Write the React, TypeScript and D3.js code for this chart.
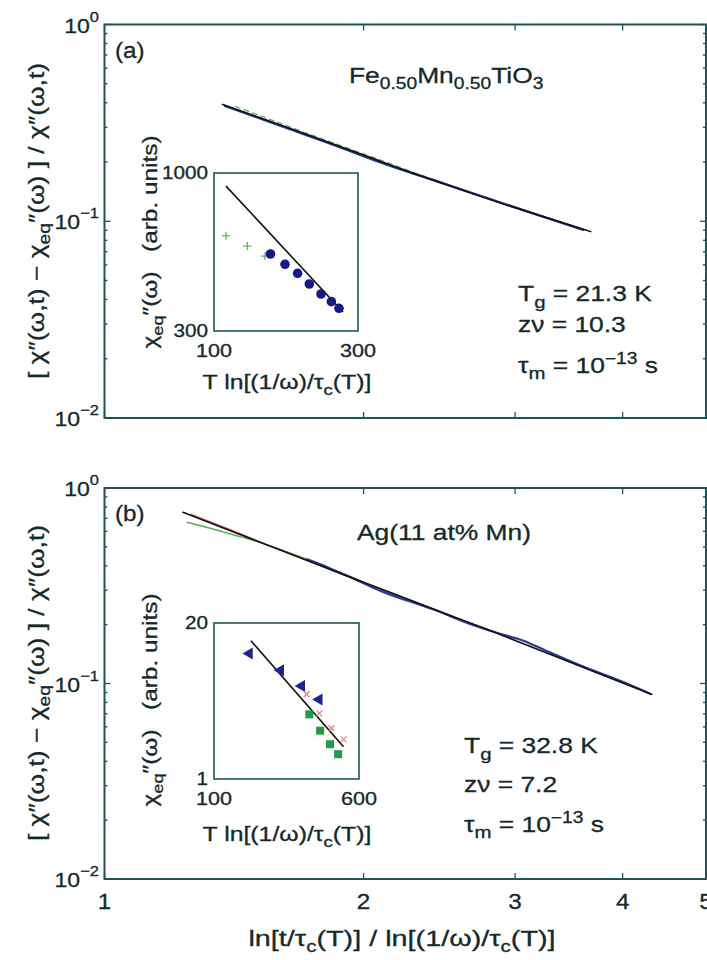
import React from "react";
import * as d3 from "d3";

// ---------- data ----------
const xTicksMain = [1, 2, 3, 4, 5];
const yDecades = [0.01, 0.1, 1];

// panel (a) main curves
const aBlackX = [1.371, 1.6, 2.0, 2.28, 2.5, 3.0, 3.674];
const aBlackY = [0.3926, 0.309, 0.217, 0.176, 0.153, 0.117, 0.0886];
const aBlueX = [1.38, 1.6, 1.85, 2.1, 2.4, 2.8, 3.2, 3.6];
const aBlueY = [0.386, 0.306, 0.244, 0.198, 0.163, 0.13, 0.107, 0.0905];
const aGreenX = [1.42, 1.6, 1.8, 2.0, 2.5, 3.0, 3.4, 3.68];
const aGreenY = [0.383, 0.315, 0.26, 0.22, 0.154, 0.118, 0.099, 0.0885];

// panel (b) main curves
const bBlackX = [1.234, 1.5, 1.87, 2.0, 2.5, 2.85, 3.0, 3.5, 4.324];
const bBlackY = [0.751, 0.538, 0.369, 0.33, 0.226, 0.182, 0.166, 0.127, 0.088];
const bGreenX = [1.248, 1.33, 1.42, 1.5, 1.7, 2.0];
const bGreenY = [0.668, 0.62, 0.572, 0.535, 0.44, 0.33];
const bRedX = [1.26, 1.4, 1.6, 1.9, 2.2, 2.5];
const bRedY = [0.735, 0.612, 0.482, 0.362, 0.276, 0.226];
const bBlueX = [1.72, 1.8, 1.86, 1.92, 2.1, 2.4, 2.7, 2.9, 3.05, 3.25, 3.6, 4.0, 4.3];
const bBlueY = [0.432, 0.4, 0.375, 0.354, 0.296, 0.241, 0.197, 0.178, 0.167, 0.148, 0.122, 0.102, 0.0888];

// inset (a)
const iaXTicks = [100, 300];
const iaYTicks = [300, 1000];
const iaLineX = [109.6, 267.6];
const iaLineY = [905, 346.7];
const iaCrossX = [109.6, 128.9, 147.6];
const iaCrossY = [620, 573, 531];
const iaDotX = [153.9, 171.9, 189.2, 206.9, 226.2, 244.9, 259.5];
const iaDotY = [539.5, 498.7, 465.6, 429.2, 397.7, 375.2, 356.6];

// inset (b)
const ibXTicks = [100, 600];
const ibYTicks = [1, 20];
const ibLineX = [158, 495.5];
const ibLineY = [14.2, 1.86];
const ibTriX = [154.7, 227.5, 294.9, 366.2];
const ibTriY = [11.13, 8.06, 5.96, 4.6];
const ibXmarkX = [314.1, 367.1, 426.7, 495.6];
const ibXmarkY = [5.09, 3.53, 2.65, 2.14];
const ibSqX = [324.8, 371.2, 419.4, 463.6];
const ibSqY = [3.46, 2.53, 1.95, 1.61];

// ---------- style ----------
const FONT = "'Liberation Sans', Arial, Helvetica, sans-serif";
const FRAME = "#1d5656";
const TXT = "#142a2a";
const SX = 1.2;

const X0 = 104.5;
const X1 = 706;
const xMain = d3.scaleLog().domain([1, 5]).range([X0, X1]);

type Panel = { top: number; bottom: number };
const PA: Panel = { top: 24.5, bottom: 418 };
const PB: Panel = { top: 488, bottom: 879 };

function zip(xs: number[], ys: number[]) {
  return xs.map((x, i) => [x, ys[i]] as [number, number]);
}

function supExp(v: number) {
  const e = Math.round(Math.log10(v));
  return e === 0 ? "0" : "\u2212" + Math.abs(e);
}

function ST({
  x,
  y,
  size = 22,
  sx = SX,
  rot = 0,
  anchor = "start",
  children,
}: {
  x: number;
  y: number;
  size?: number;
  sx?: number;
  rot?: number;
  anchor?: string;
  children: React.ReactNode;
}) {
  return (
    <g transform={`translate(${x},${y}) rotate(${rot}) scale(${sx},1)`}>
      <text x={0} y={0} textAnchor={anchor} fontSize={size} fill={TXT} stroke={TXT} strokeWidth={0.3} fontFamily={FONT}>
        {children}
      </text>
    </g>
  );
}

function MainFrame({ p, showXLabels }: { p: Panel; showXLabels: boolean }) {
  const y = d3.scaleLog().domain([0.01, 1]).range([p.bottom, p.top]);
  const yt = y.ticks();
  const els: React.ReactNode[] = [];
  yt.forEach((v, i) => {
    const major = Math.abs(Math.log10(v) - Math.round(Math.log10(v))) < 1e-9;
    const L = major ? 6 : 3;
    const yy = y(v);
    els.push(<line key={"yl" + i} x1={X0} x2={X0 + L} y1={yy} y2={yy} stroke={FRAME} strokeWidth={1.3} />);
    els.push(<line key={"yr" + i} x1={X1} x2={X1 - L} y1={yy} y2={yy} stroke={FRAME} strokeWidth={1.3} />);
  });
  xTicksMain.forEach((v, i) => {
    const xx = xMain(v);
    els.push(<line key={"xb" + i} x1={xx} x2={xx} y1={p.bottom} y2={p.bottom - 6} stroke={FRAME} strokeWidth={1.3} />);
    els.push(<line key={"xt" + i} x1={xx} x2={xx} y1={p.top} y2={p.top + 6} stroke={FRAME} strokeWidth={1.3} />);
  });
  return (
    <g>
      <rect x={X0} y={p.top} width={X1 - X0} height={p.bottom - p.top} fill="none" stroke={FRAME} strokeWidth={2} />
      {els}
      {yDecades.map((v, i) => (
        <ST key={"yl" + i} x={99} y={y(v) + 8} anchor="end" size={21} sx={1.1}>
          10
          <tspan dy={-11} fontSize={15}>
            {supExp(v)}
          </tspan>
        </ST>
      ))}
      {showXLabels &&
        xTicksMain.map((v, i) => (
          <ST key={"xl" + i} x={xMain(v)} y={p.bottom + 30} anchor="middle" size={22} sx={1.1}>
            {v}
          </ST>
        ))}
    </g>
  );
}

function Curves({ p, series }: { p: Panel; series: { xs: number[]; ys: number[]; color: string; w: number; dash?: string }[] }) {
  const y = d3.scaleLog().domain([0.01, 1]).range([p.bottom, p.top]);
  const line = d3
    .line<[number, number]>()
    .x((d) => xMain(d[0]))
    .y((d) => y(d[1]))
    .curve(d3.curveMonotoneX);
  return (
    <g>
      {series.map((s, i) => (
        <path key={i} d={line(zip(s.xs, s.ys)) || ""} fill="none" stroke={s.color} strokeWidth={s.w} strokeDasharray={s.dash} strokeLinecap="round" />
      ))}
    </g>
  );
}

function YMainLabel({ cy }: { cy: number }) {
  return (
    <ST x={44} y={cy} rot={-90} anchor="middle" size={22}>
      [ χ″(ω,t) − χ
      <tspan dy={6} fontSize={16}>eq</tspan>
      <tspan dy={-6}>″(ω) ] / χ″(ω,t)</tspan>
    </ST>
  );
}

function Params({ x, y1, y2, y3, tg, zv }: { x: number; y1: number; y2: number; y3: number; tg: string; zv: string }) {
  return (
    <g>
      <ST x={x} y={y1}>
        T<tspan dy={7} fontSize={17}>g</tspan>
        <tspan dy={-7}>{" = " + tg}</tspan>
      </ST>
      <ST x={x} y={y2}>{"zν = " + zv}</ST>
      <ST x={x} y={y3}>
        τ<tspan dy={6} fontSize={17}>m</tspan>
        <tspan dy={-6}>{" = 10"}</tspan>
        <tspan dy={-9} fontSize={16}>−13</tspan>
        <tspan dy={9}>{" s"}</tspan>
      </ST>
    </g>
  );
}

function InsetYLabel({ cx, cy }: { cx: number; cy: number }) {
  return (
    <ST x={cx} y={cy} rot={-90} anchor="middle" size={20} sx={1.22}>
      χ<tspan dy={6} fontSize={15}>eq</tspan>
      <tspan dy={-6}>″(ω)</tspan>
      <tspan dx={16}>(arb. units)</tspan>
    </ST>
  );
}

function InsetXLabel({ cx, y }: { cx: number; y: number }) {
  return (
    <ST x={cx} y={y} anchor="middle" size={20} sx={1.24}>
      T ln[(1/ω)/τ<tspan dy={6} fontSize={15}>c</tspan>
      <tspan dy={-6}>(T)]</tspan>
    </ST>
  );
}

function InsetA() {
  const L = 214, R = 358, T = 173, B = 331;
  const x = d3.scaleLog().domain([100, 300]).range([L, R]);
  const y = d3.scaleLog().domain([300, 1000]).range([B, T]);
  return (
    <g>
      <rect x={L} y={T} width={R - L} height={B - T} fill="#fff" stroke={FRAME} strokeWidth={1.6} />
      <line x1={x(iaLineX[0])} y1={y(iaLineY[0])} x2={x(iaLineX[1])} y2={y(iaLineY[1])} stroke="#111" strokeWidth={1.6} />
      {iaCrossX.map((v, i) => {
        const cx = x(v), cy = y(iaCrossY[i]);
        return (
          <g key={i} stroke="#5db85d" strokeWidth={1.3}>
            <line x1={cx - 4} x2={cx + 4} y1={cy} y2={cy} />
            <line x1={cx} x2={cx} y1={cy - 4} y2={cy + 4} />
          </g>
        );
      })}
      {iaDotX.map((v, i) => (
        <circle key={i} cx={x(v)} cy={y(iaDotY[i])} r={4.8} fill="#161a86" />
      ))}
      {iaYTicks.map((v, i) => (
        <ST key={i} x={208} y={y(v) + 6} anchor="end" size={18} sx={1.15}>{v}</ST>
      ))}
      {iaXTicks.map((v, i) => (
        <ST key={i} x={x(v)} y={357} anchor="middle" size={18} sx={1.2}>{v}</ST>
      ))}
      <InsetXLabel cx={287} y={389} />
      <InsetYLabel cx={157} cy={242} />
    </g>
  );
}

function InsetB() {
  const L = 214, R = 359, T = 623, B = 779;
  const x = d3.scaleLog().domain([100, 600]).range([L, R]);
  const y = d3.scaleLog().domain([1, 20]).range([B, T]);
  const tri = d3.symbol().type(d3.symbolTriangle).size(62)();
  return (
    <g>
      <rect x={L} y={T} width={R - L} height={B - T} fill="#fff" stroke={FRAME} strokeWidth={1.6} />
      <line x1={x(ibLineX[0])} y1={y(ibLineY[0])} x2={x(ibLineX[1])} y2={y(ibLineY[1])} stroke="#111" strokeWidth={1.6} />
      {ibTriX.map((v, i) => (
        <path key={i} d={tri || ""} transform={`translate(${x(v)},${y(ibTriY[i])}) rotate(-90)`} fill="#1a268e" />
      ))}
      {ibXmarkX.map((v, i) => {
        const cx = x(v), cy = y(ibXmarkY[i]);
        return (
          <g key={i} stroke="#e08080" strokeWidth={1.2}>
            <line x1={cx - 3} x2={cx + 3} y1={cy - 3} y2={cy + 3} />
            <line x1={cx - 3} x2={cx + 3} y1={cy + 3} y2={cy - 3} />
          </g>
        );
      })}
      {ibSqX.map((v, i) => (
        <rect key={i} x={x(v) - 4} y={y(ibSqY[i]) - 4} width={8} height={8} fill="#239a49" />
      ))}
      {ibYTicks.map((v, i) => (
        <ST key={i} x={208} y={y(v) + 6} anchor="end" size={18} sx={1.15}>{v}</ST>
      ))}
      {ibXTicks.map((v, i) => (
        <ST key={i} x={x(v)} y={805} anchor="middle" size={18} sx={1.2}>{v}</ST>
      ))}
      <InsetXLabel cx={287} y={841} />
      <InsetYLabel cx={157} cy={700} />
    </g>
  );
}

export default function App() {
  return (
    <svg width={707} height={960} style={{ position: "absolute", left: 0, top: 0, background: "#fff" }}>
      <rect x={0} y={0} width={707} height={960} fill="#fff" />
      {/* panel (a) */}
      <Curves
        p={PA}
        series={[
          { xs: aGreenX, ys: aGreenY, color: "#5cb35c", w: 1.3, dash: "5 4" },
          { xs: aBlueX, ys: aBlueY, color: "#27328f", w: 2.4 },
          { xs: aBlackX, ys: aBlackY, color: "#111", w: 1.5 },
        ]}
      />
      <MainFrame p={PA} showXLabels={false} />
      <ST x={115} y={58} size={22} sx={1.1}>(a)</ST>
      <ST x={349} y={83}>
        Fe<tspan dy={6} fontSize={16}>0.50</tspan>
        <tspan dy={-6}>Mn</tspan>
        <tspan dy={6} fontSize={16}>0.50</tspan>
        <tspan dy={-6}>TiO</tspan>
        <tspan dy={6} fontSize={16}>3</tspan>
      </ST>
      <Params x={518} y1={301} y2={332} y3={373} tg="21.3 K" zv="10.3" />
      <InsetA />
      <YMainLabel cy={221} />

      {/* panel (b) */}
      <Curves
        p={PB}
        series={[
          { xs: bGreenX, ys: bGreenY, color: "#4fae4f", w: 1.5 },
          { xs: bRedX, ys: bRedY, color: "#d86060", w: 1.3 },
          { xs: bBlueX, ys: bBlueY, color: "#2a38a0", w: 2.2 },
          { xs: bBlackX, ys: bBlackY, color: "#111", w: 1.6 },
        ]}
      />
      <MainFrame p={PB} showXLabels={true} />
      <ST x={115} y={521} size={22} sx={1.1}>(b)</ST>
      <ST x={357} y={540}>Ag(11 at% Mn)</ST>
      <Params x={464} y1={753} y2={792} y3={832} tg="32.8 K" zv="7.2" />
      <InsetB />
      <YMainLabel cy={683} />

      <ST x={402} y={946} anchor="middle" size={22.5} sx={1.28}>
        ln[t/τ<tspan dy={6} fontSize={16}>c</tspan>
        <tspan dy={-6}>(T)] / ln[(1/ω)/τ</tspan>
        <tspan dy={6} fontSize={16}>c</tspan>
        <tspan dy={-6}>(T)]</tspan>
      </ST>
    </svg>
  );
}
